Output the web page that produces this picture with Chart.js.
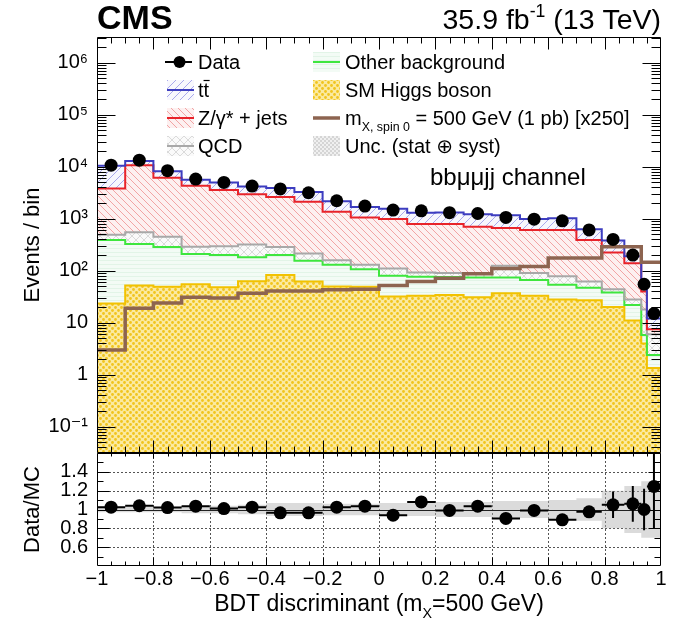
<!DOCTYPE html>
<html>
<head>
<meta charset="utf-8">
<script src="https://cdn.jsdelivr.net/npm/chart.js@4.4.1/dist/chart.umd.min.js"></script>
<style>
  body { margin: 0; background: #fff; }
  #wrap { position: relative; width: 673px; height: 636px; overflow: hidden; }
  canvas { position: absolute; left: 0; }
  #main { top: 0; }
  #ratio { top: 452px; }
</style>
</head>
<body>
<div id="wrap">
  <canvas id="main" width="673" height="460"></canvas>
  <canvas id="ratio" width="673" height="184"></canvas>
</div>
<script>
// bin edges of the BDT discriminant histogram
const binEdges = [-1, -0.9, -0.8, -0.7, -0.6, -0.5, -0.4, -0.3, -0.2, -0.1, 0, 0.1, 0.2, 0.3, 0.4, 0.5, 0.6, 0.7, 0.79, 0.87, 0.93, 0.95, 1.0];

// events per bin
const dataCounts = [10700, 13400, 8400, 5800, 5000, 4250, 3750, 3160, 2220, 1750, 1470, 1420, 1310, 1260, 1060, 980, 910, 610, 400, 200, 55, 15];
const smHiggs   = [23.5, 52, 49, 55, 48, 63, 83, 62, 50, 49, 32, 33, 34, 31, 37, 33, 28, 27, 20, 11, 4, 1.35];
const otherBkg  = [366, 273, 236, 155, 152, 119, 117, 94, 80, 58, 48, 44, 42, 43, 37, 33, 26, 20, 18, 11, 1.8, 1.05];
const qcd       = [100, 225, 165, 80, 95, 138, 85, 59, 30, 23, 30, 15, 14, 14, 51, 24, 24, 15, 6, 6, 12.2, 3.6];
const zjets     = [3340, 10150, 5700, 4010, 3265, 2630, 2345, 1915, 1200, 930, 880, 698, 700, 612, 535, 520, 532, 328, 181, 112, 22, 1.5];
const ttbar     = [6570, 2200, 2050, 1300, 1390, 1200, 1260, 1140, 810, 630, 570, 520, 530, 520, 510, 380, 410, 235, 155, 49, 15, 4.5];
const signal    = [3.0, 19, 24, 31, 30, 37, 41, 41, 43, 44, 52, 62, 72, 88, 110, 120, 175, 175, 290, 290, 145, 145];

// ratio panel
const ratioVals = [1.025, 1.04, 1.02, 1.035, 1.01, 1.025, 0.965, 0.965, 1.025, 1.035, 0.94, 1.08, 0.99, 1.035, 0.905, 0.99, 0.89, 0.975, 1.05, 1.06, 1.0, 1.245];
const ratioErr  = [0.012, 0.011, 0.013, 0.015, 0.016, 0.018, 0.02, 0.022, 0.025, 0.028, 0.03, 0.032, 0.033, 0.034, 0.036, 0.038, 0.04, 0.06, 0.14, 0.19, 0.22, 0.45];
const mcUnc     = [0.03, 0.03, 0.03, 0.04, 0.04, 0.05, 0.07, 0.07, 0.06, 0.06, 0.07, 0.07, 0.08, 0.08, 0.09, 0.09, 0.1, 0.12, 0.2, 0.25, 0.3, 0.3];

// axis ticks
const yTickValues = [0.1, 1, 10, 100, 1000, 10000, 100000, 1000000];
const yTickLabels = ['10\u207B\u00B9', '1', '10', '10\u00B2', '10\u00B3', '10\u2074', '10\u2075', '10\u2076'];
const ratioTickValues = [0.6, 0.8, 1, 1.2, 1.4];
const ratioTickLabels = ['0.6', '0.8', '1', '1.2', '1.4'];

const FONT = '"Liberation Sans", "DejaVu Sans", Arial, sans-serif';

const mainCtx = document.getElementById('main').getContext('2d');
const ratioCtx = document.getElementById('ratio').getContext('2d');

function makePattern(ctx, size, draw) {
  const c = document.createElement('canvas');
  c.width = c.height = size;
  draw(c.getContext('2d'), size);
  return ctx.createPattern(c, 'repeat');
}
function hatch(ctx, size, bg, color, dir) {
  return makePattern(ctx, size, (g, s) => {
    g.fillStyle = bg; g.fillRect(0, 0, s, s);
    g.strokeStyle = color; g.lineWidth = 1;
    g.beginPath();
    for (const k of [-s, 0, s]) {
      if (dir === '/') { g.moveTo(k, s); g.lineTo(k + s, 0); }
      else { g.moveTo(k, 0); g.lineTo(k + s, s); }
    }
    g.stroke();
  });
}
function crossHatch(ctx, size, bg, color) {
  return makePattern(ctx, size, (g, s) => {
    g.fillStyle = bg; g.fillRect(0, 0, s, s);
    g.strokeStyle = color; g.lineWidth = 1;
    g.beginPath();
    for (const k of [-s, 0, s]) {
      g.moveTo(k, s); g.lineTo(k + s, 0);
      g.moveTo(k, 0); g.lineTo(k + s, s);
    }
    g.stroke();
  });
}
function dots(ctx, size, bg, color, r) {
  return makePattern(ctx, size, (g, s) => {
    g.fillStyle = bg; g.fillRect(0, 0, s, s);
    g.fillStyle = color;
    for (const [px, py] of [[s / 4, s / 4], [3 * s / 4, 3 * s / 4]]) {
      g.beginPath(); g.arc(px, py, r, 0, Math.PI * 2); g.fill();
    }
  });
}

const ttPattern = hatch(mainCtx, 8, '#f7f7fd', '#a9a9ec', '/');
const zPattern = hatch(mainCtx, 7, '#fdf0f0', '#f2a4a4', '\\');
const qcdPattern = crossHatch(mainCtx, 8, '#fafafa', '#dadada');
const otherPattern = makePattern(mainCtx, 4, (g, s) => {
  g.fillStyle = '#f3fbf5'; g.fillRect(0, 0, s, s);
  g.fillStyle = '#e2f4e7'; g.fillRect(0, 0, s, 1);
});
const higgsPattern = dots(mainCtx, 6, '#fbeaa0', '#f1c41e', 1.4);
const uncPattern = dots(mainCtx, 4, '#f0f0f0', '#c8c8c8', 0.9);

// cumulative stack (bottom to top)
const components = [smHiggs, otherBkg, qcd, zjets, ttbar];
const stacks = [];
let running = binEdges.slice(0, -1).map(() => 0);
for (const comp of components) {
  running = running.map((v, i) => v + comp[i]);
  stacks.push(running.slice());
}

function stepData(values) {
  return binEdges.map((e, i) => ({ x: e, y: values[Math.min(i, values.length - 1)] }));
}
const binCenters = binEdges.slice(0, -1).map((e, i) => (e + binEdges[i + 1]) / 2);

function histDataset(values, color, bg, fill, order, width) {
  return {
    data: stepData(values), borderColor: color, borderWidth: width || 2,
    backgroundColor: bg, fill: fill, stepped: true, pointRadius: 0, order: order
  };
}

function drawRich(ctx, parts, x, y, size, weight) {
  let cx = x;
  for (const p of parts) {
    const s = p.mode ? size * 0.62 : size;
    ctx.font = (weight || '') + ' ' + s + 'px ' + FONT;
    const dy = p.mode === 'sub' ? size * 0.3 : p.mode === 'sup' ? -size * 0.42 : 0;
    ctx.fillText(p.text, cx, y + dy);
    cx += ctx.measureText(p.text).width;
  }
  return cx;
}
function richWidth(ctx, parts, size, weight) {
  let w = 0;
  for (const p of parts) {
    const s = p.mode ? size * 0.62 : size;
    ctx.font = (weight || '') + ' ' + s + 'px ' + FONT;
    w += ctx.measureText(p.text).width;
  }
  return w;
}

function drawFrameTicks(ctx, a, xs, ys, cfg) {
  ctx.strokeStyle = '#000';
  ctx.lineWidth = 1;
  ctx.beginPath();
  const L = Math.round(a.left) + 0.5, R = Math.round(a.right) - 0.5;
  const T = Math.round(a.top) + 0.5, B = Math.round(a.bottom) - 0.5;
  ctx.rect(L, T, R - L, B - T);
  for (const t of cfg.yTicks) {
    const py = Math.round(ys.getPixelForValue(t.v)) + 0.5;
    if (py < T || py > B) continue;
    ctx.moveTo(L, py); ctx.lineTo(L + t.len, py);
    ctx.moveTo(R, py); ctx.lineTo(R - t.len, py);
  }
  for (const t of cfg.xTicks) {
    const px = Math.round(xs.getPixelForValue(t.v)) + 0.5;
    if (px <= L || px >= R) continue;
    ctx.moveTo(px, B); ctx.lineTo(px, B - t.len);
    ctx.moveTo(px, T); ctx.lineTo(px, T + (t.topLen !== undefined ? t.topLen : t.len));
  }
  ctx.stroke();
}

function xTickList(major, minor, topMajor, topMinor) {
  const list = [];
  for (let i = -20; i <= 20; i++) {
    const v = i * 0.05;
    const isMajor = i % 4 === 0;
    list.push({ v: v, len: isMajor ? major : minor, topLen: isMajor ? topMajor : topMinor });
  }
  return list;
}

function noPad(s) {
  s.paddingTop = 0; s.paddingBottom = 0; s.paddingLeft = 0; s.paddingRight = 0;
}

const mainDecor = {
  id: 'mainDecor',
  afterDraw(chart) {
    const { ctx, chartArea: a, scales: { x, y } } = chart;
    ctx.save();
    const yTicks = [];
    for (let p = -2; p <= 6; p++) {
      for (let k = 1; k <= 9; k++) {
        yTicks.push({ v: k * Math.pow(10, p), len: k === 1 ? 18 : 9 });
      }
    }
    drawFrameTicks(ctx, a, x, y, { yTicks: yTicks, xTicks: xTickList(12, 6, 12, 6) });

    ctx.fillStyle = '#000';
    ctx.textBaseline = 'alphabetic';
    ctx.textAlign = 'left';
    // header
    drawRich(ctx, [{ text: 'CMS' }], a.left, 29, 34, 'bold');
    const lumi = [{ text: '35.9 fb' }, { text: '-1', mode: 'sup' }, { text: ' (13 TeV)' }];
    drawRich(ctx, lumi, a.right - richWidth(ctx, lumi, 28.5), 29, 28.5);

    // legend
    const rows = [62, 90, 118, 146];
    const c1 = 167, c2 = 313, sw = 27, t1 = 198, t2 = 345, fs = 20;
    const box = (x0, yc, pat) => { ctx.fillStyle = pat; ctx.fillRect(x0, yc - 10, sw, 20); };
    const line = (x0, yc, color, w) => {
      ctx.strokeStyle = color; ctx.lineWidth = w;
      ctx.beginPath(); ctx.moveTo(x0, yc); ctx.lineTo(x0 + sw, yc); ctx.stroke();
    };
    // Data
    line(c1 - 2, rows[0], '#000', 2);
    ctx.fillStyle = '#000';
    ctx.beginPath(); ctx.arc(c1 + sw / 2 - 1, rows[0], 6, 0, Math.PI * 2); ctx.fill();
    box(c1, rows[1], ttPattern); line(c1, rows[1], '#3d3dc0', 2);
    box(c1, rows[2], zPattern); line(c1, rows[2], '#e8232a', 2);
    box(c1, rows[3], qcdPattern); line(c1, rows[3], '#a8a8a8', 2);
    box(c2, rows[0], otherPattern); line(c2, rows[0], '#3ee63e', 2);
    box(c2, rows[1], higgsPattern);
    line(c2, rows[2], '#8d6450', 3.5);
    box(c2, rows[3], uncPattern);

    ctx.fillStyle = '#000';
    const base = r => r + 7;
    drawRich(ctx, [{ text: 'Data' }], t1, base(rows[0]), fs);
    // t t-bar
    ctx.font = fs + 'px ' + FONT;
    const tw = ctx.measureText('t').width;
    drawRich(ctx, [{ text: 'tt' }], t1, base(rows[1]), fs);
    ctx.strokeStyle = '#000'; ctx.lineWidth = 1.2;
    ctx.beginPath(); ctx.moveTo(t1 + tw, base(rows[1]) - 16.5); ctx.lineTo(t1 + 2 * tw + 0.5, base(rows[1]) - 16.5); ctx.stroke();
    drawRich(ctx, [{ text: 'Z/\u03B3* + jets' }], t1, base(rows[2]), fs);
    drawRich(ctx, [{ text: 'QCD' }], t1, base(rows[3]), fs);
    drawRich(ctx, [{ text: 'Other background' }], t2, base(rows[0]), fs);
    drawRich(ctx, [{ text: 'SM Higgs boson' }], t2, base(rows[1]), fs);
    drawRich(ctx, [{ text: 'm' }, { text: 'X, spin 0', mode: 'sub' }, { text: ' = 500 GeV (1 pb) [x250]' }], t2, base(rows[2]), fs);
    drawRich(ctx, [{ text: 'Unc. (stat \u2295 syst)' }], t2, base(rows[3]), fs);

    drawRich(ctx, [{ text: 'bb\u03BC\u03BCjj channel' }], 430, 185, 24);
    ctx.restore();
  }
};

new Chart(mainCtx, {
  type: 'line',
  data: {
    datasets: [
      histDataset(stacks[0], '#f2c200', higgsPattern, 'start', 7),
      histDataset(stacks[1], '#3ee63e', otherPattern, '-1', 6),
      histDataset(stacks[2], '#a8a8a8', qcdPattern, '-1', 5),
      histDataset(stacks[3], '#e8232a', zPattern, '-1', 4),
      histDataset(stacks[4], '#3d3dc0', ttPattern, '-1', 3),
      histDataset(signal, '#8d6450', 'transparent', false, 2, 3.5),
      {
        data: binCenters.map((c, i) => ({ x: c, y: dataCounts[i] })),
        showLine: false, pointRadius: 6.5, pointBackgroundColor: '#000',
        pointBorderColor: '#000', pointBorderWidth: 0, order: 1
      }
    ]
  },
  options: {
    responsive: false, animation: false,
    layout: { padding: { left: 0, right: 12, top: 37, bottom: 7 } },
    plugins: {
      legend: { display: false }, tooltip: { enabled: false },
      filler: { drawTime: 'beforeDatasetsDraw', propagate: false }
    },
    scales: {
      x: { type: 'linear', min: -1, max: 1, display: false },
      y: {
        type: 'logarithmic', min: Math.pow(10, -1.505), max: Math.pow(10, 6.495),
        grid: { display: false, drawTicks: false }, border: { display: false },
        afterBuildTicks: s => { s.ticks = yTickValues.map(v => ({ value: v })); },
        afterFit: s => { s.width = 97; noPad(s); },
        ticks: { color: '#000', padding: 9, font: { family: FONT, size: 20 },
          callback: (v, i) => yTickLabels[i] },
        title: { display: true, text: 'Events / bin', color: '#000',
          font: { family: FONT, size: 22 }, padding: { top: 20, bottom: 0 } }
      }
    }
  },
  plugins: [mainDecor]
});

const ratioDecor = {
  id: 'ratioDecor',
  beforeDatasetsDraw(chart) {
    const { ctx, chartArea: a, scales: { x, y } } = chart;
    ctx.save();
    ctx.strokeStyle = '#555'; ctx.lineWidth = 1; ctx.setLineDash([2, 2]);
    ctx.beginPath();
    for (let i = -4; i <= 4; i++) {
      const px = Math.round(x.getPixelForValue(i * 0.2)) + 0.5;
      ctx.moveTo(px, a.top); ctx.lineTo(px, a.bottom);
    }
    for (const v of [0.6, 0.8, 1.2, 1.4]) {
      const py = Math.round(y.getPixelForValue(v)) + 0.5;
      ctx.moveTo(a.left, py); ctx.lineTo(a.right, py);
    }
    ctx.stroke();
    ctx.restore();
  },
  afterDatasetsDraw(chart) {
    const { ctx, chartArea: a, scales: { x, y } } = chart;
    ctx.save();
    ctx.beginPath(); ctx.rect(a.left, a.top, a.right - a.left, a.bottom - a.top); ctx.clip();
    ctx.strokeStyle = '#222'; ctx.lineWidth = 1;
    const p1 = Math.round(y.getPixelForValue(1)) + 0.5;
    ctx.beginPath(); ctx.moveTo(a.left, p1); ctx.lineTo(a.right, p1); ctx.stroke();
    ctx.strokeStyle = '#000'; ctx.lineWidth = 2;
    ctx.beginPath();
    ratioVals.forEach((r, i) => {
      const py = y.getPixelForValue(r);
      ctx.moveTo(x.getPixelForValue(binEdges[i]), py);
      ctx.lineTo(x.getPixelForValue(binEdges[i + 1]), py);
      const px = x.getPixelForValue(binCenters[i]);
      ctx.moveTo(px, y.getPixelForValue(r - ratioErr[i]));
      ctx.lineTo(px, y.getPixelForValue(r + ratioErr[i]));
    });
    ctx.stroke();
    ctx.fillStyle = '#000';
    ratioVals.forEach((r, i) => {
      ctx.beginPath();
      ctx.arc(x.getPixelForValue(binCenters[i]), y.getPixelForValue(r), 6.5, 0, Math.PI * 2);
      ctx.fill();
    });
    ctx.restore();
  },
  afterDraw(chart) {
    const { ctx, chartArea: a, scales: { x, y } } = chart;
    ctx.save();
    const yTicks = [];
    for (let i = 4; i <= 16; i++) yTicks.push({ v: i / 10, len: i % 2 === 0 ? 12 : 6 });
    drawFrameTicks(ctx, a, x, y, { yTicks: yTicks, xTicks: xTickList(8, 4, 5, 3) });
    ctx.fillStyle = '#000';
    ctx.textBaseline = 'alphabetic';
    const title = [{ text: 'BDT discriminant (m' }, { text: 'X', mode: 'sub' }, { text: '=500 GeV)' }];
    const w = richWidth(ctx, title, 23);
    drawRich(ctx, title, (a.left + a.right) / 2 - w / 2, 159, 23);
    ctx.restore();
  }
};

new Chart(ratioCtx, {
  type: 'line',
  data: {
    datasets: [
      { data: stepData(mcUnc.map(u => 1 + u)), borderWidth: 0, borderColor: 'transparent',
        stepped: true, pointRadius: 0, fill: false },
      { data: stepData(mcUnc.map(u => 1 - u)), borderWidth: 0, borderColor: 'transparent',
        stepped: true, pointRadius: 0, fill: '-1', backgroundColor: 'rgba(175,175,175,0.45)' }
    ]
  },
  options: {
    responsive: false, animation: false,
    layout: { padding: { left: 0, right: 12, top: 1, bottom: 0 } },
    plugins: { legend: { display: false }, tooltip: { enabled: false } },
    scales: {
      x: {
        type: 'linear', min: -1, max: 1,
        grid: { display: false, drawTicks: false }, border: { display: false },
        afterFit: s => { s.height = 70; noPad(s); },
        ticks: { stepSize: 0.2, color: '#000', padding: 1, maxRotation: 0,
          font: { family: FONT, size: 20 },
          callback: v => {
            const r = Math.round(v * 10) / 10;
            return r < 0 ? '\u2212' + Math.abs(r) : String(r);
          } }
      },
      y: {
        min: 0.4, max: 1.6,
        grid: { display: false, drawTicks: false }, border: { display: false },
        afterBuildTicks: s => { s.ticks = ratioTickValues.map(v => ({ value: v })); },
        afterFit: s => { s.width = 97; noPad(s); },
        ticks: { color: '#000', padding: 9, font: { family: FONT, size: 20 },
          callback: (v, i) => ratioTickLabels[i] },
        title: { display: true, text: 'Data/MC', color: '#000',
          font: { family: FONT, size: 22 }, padding: { top: 20, bottom: 0 } }
      }
    }
  },
  plugins: [ratioDecor]
});
</script>
</body>
</html>
